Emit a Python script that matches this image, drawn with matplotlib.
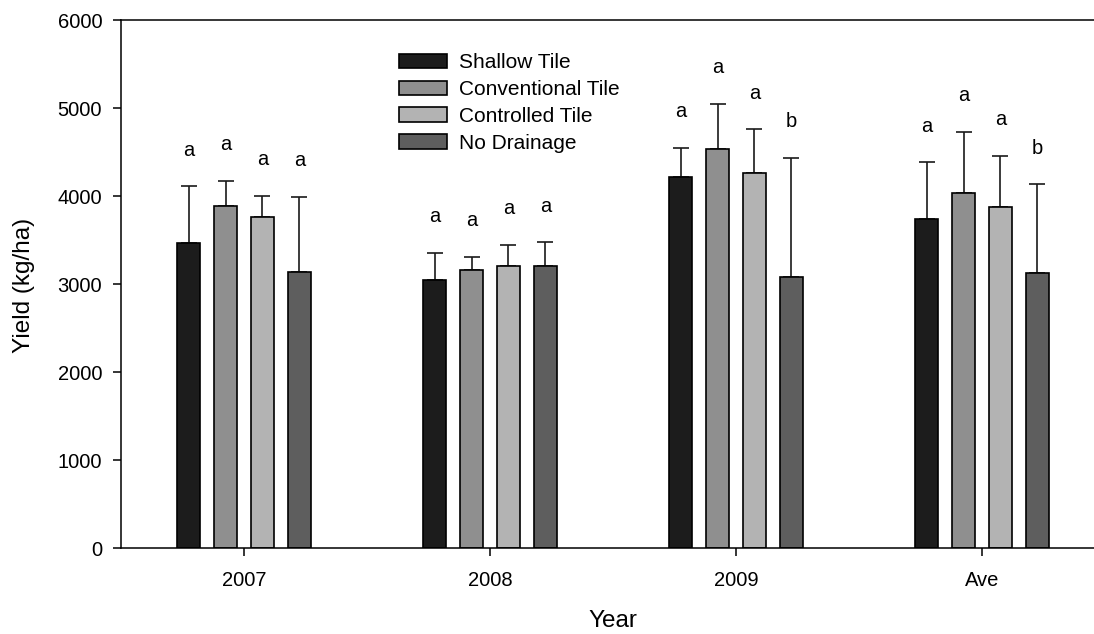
import numpy as np
import matplotlib
matplotlib.use("Agg")
import matplotlib.pyplot as plt

plt.rcParams['font.family'] = ['Liberation Sans', 'DejaVu Sans']

years = ["2007", "2008", "2009", "Ave"]
treatments = ["Shallow Tile", "Conventional Tile", "Controlled Tile", "No Drainage"]

shallow = [3466, 3042, 4216, 3735]
shallow_err = [644, 314, 329, 648]
conventional = [3890, 3159, 4534, 4030]
conventional_err = [284, 148, 515, 701]
controlled = [3761, 3201, 4265, 3875]
controlled_err = [239, 246, 493, 580]
no_drainage = [3140, 3208, 3076, 3129]
no_drainage_err = [849, 266, 1356, 1004]

shallow_letters = ["a", "a", "a", "a"]
conventional_letters = ["a", "a", "a", "a"]
controlled_letters = ["a", "a", "a", "a"]
no_drainage_letters = ["a", "a", "b", "b"]

means = [shallow, conventional, controlled, no_drainage]
errs = [shallow_err, conventional_err, controlled_err, no_drainage_err]
letters = [shallow_letters, conventional_letters, controlled_letters, no_drainage_letters]
colors = ["#1c1c1c", "#8f8f8f", "#b3b3b3", "#5e5e5e"]

fig = plt.figure(figsize=(10.94, 6.34), dpi=100)
ax = fig.add_axes([121 / 1094, 86 / 634, 984 / 1094, 528 / 634])

x = np.arange(len(years))
step = 0.1504
width = 0.0915

for i, name in enumerate(treatments):
    pos = x + (i - 1.5) * step
    ax.bar(pos, means[i], width, color=colors[i], edgecolor="black",
           linewidth=1.2, label=name, zorder=2)
    yerr = [np.zeros(len(years)), errs[i]]
    ax.errorbar(pos, means[i], yerr=yerr, fmt="none", ecolor="#1a1a1a",
                elinewidth=1.2, capsize=5.8, capthick=1.2, zorder=1)
    for p, m, e, lab in zip(pos, means[i], errs[i], letters[i]):
        ax.annotate(lab, (p, m + e), xytext=(0, 22), textcoords="offset points",
                    ha="center", va="baseline", fontsize=14.5)

ax.set_xlim(-0.5, 3.5)
ax.set_ylim(0, 6000)
ax.set_yticks(range(0, 6001, 1000))
ax.set_xticks(x)
ax.set_xticklabels(years)
ax.tick_params(direction="out", length=5.5, width=1.1, labelsize=14.5, pad=11)
ax.tick_params(axis="y", pad=8)
ax.spines["right"].set_visible(False)
for s in ["left", "bottom", "top"]:
    ax.spines[s].set_linewidth(1.1)

fig.text(24 / 1094, 1 - 285 / 634, "Yield (kg/ha)", rotation=90,
         ha="center", va="center", fontsize=17.5)
fig.text(613 / 1094, 1 - 621 / 634, "Year", ha="center", va="center", fontsize=17.5)

ax.legend(loc="upper left", bbox_to_anchor=(399 / 1094, 1 - 53 / 634),
          bbox_transform=fig.transFigure, frameon=False, fontsize=15,
          borderpad=0, borderaxespad=0, handlelength=2.3, handleheight=0.67,
          handletextpad=0.58, labelspacing=0.38)

fig.savefig("out.png", dpi=100)
